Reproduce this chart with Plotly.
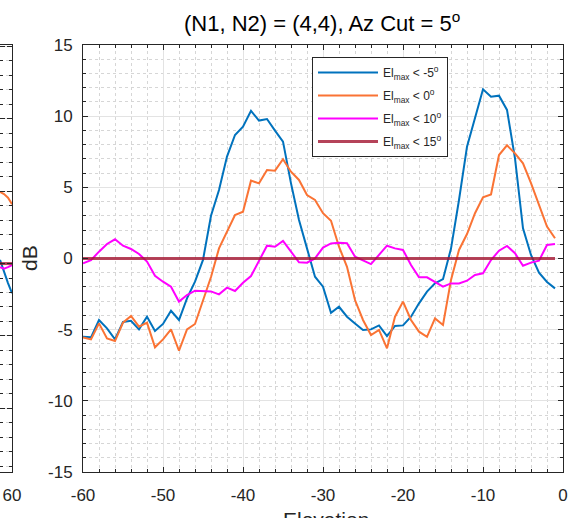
import plotly.graph_objects as go

W, H = 584, 518

elevation = [-60, -59, -58, -57, -56, -55, -54, -53, -52, -51,
             -50, -49, -48, -47, -46, -45, -44, -43, -42, -41,
             -40, -39, -38, -37, -36, -35, -34, -33, -32, -31,
             -30, -29, -28, -27, -26, -25, -24, -23, -22, -21,
             -20, -19, -18, -17, -16, -15, -14, -13, -12, -11,
             -10, -9, -8, -7, -6, -5, -4, -3, -2, -1]

el_lt_m5 = [-5.50, -5.54, -4.32, -4.91, -5.68, -4.46, -4.37, -4.98, -4.09, -5.09,
            -4.60, -3.67, -4.32, -2.80, -1.63, -0.10, 3.00, 4.81, 7.16, 8.68,
            9.26, 10.37, 9.69, 9.80, 8.98, 8.21, 5.28, 2.71, 0.71, -1.28,
            -1.98, -3.81, -3.39, -4.09, -4.56, -5.02, -4.98, -4.70, -5.45, -4.74,
            -4.70, -4.09, -3.15, -2.33, -1.75, -1.45, 0.70, 4.11, 7.86, 9.97,
            11.89, 11.37, 11.44, 10.44, 7.04, 2.12, 0.25, -1.00, -1.65, -2.10]

el_lt_0 = [-5.54, -5.68, -4.56, -5.61, -5.80, -4.51, -4.04, -4.79, -4.51, -6.24,
           -5.68, -4.98, -6.48, -4.98, -4.60, -2.92, -1.30, 0.71, 1.89, 3.06,
           3.29, 5.47, 5.28, 6.22, 6.17, 6.97, 6.10, 5.52, 4.46, 4.11,
           3.18, 2.65, 0.83, -0.58, -2.92, -4.32, -5.38, -5.02, -6.31, -4.09,
           -3.03, -4.32, -5.14, -5.50, -4.21, -4.67, -1.51, 0.60, 1.72, 3.18,
           4.30, 4.50, 7.27, 7.95, 7.39, 6.69, 5.30, 3.80, 2.24, 1.42]

el_lt_10 = [-0.34, -0.11, 0.48, 1.02, 1.35, 0.90, 0.67, 0.32, -0.22, -1.21,
            -1.63, -1.98, -3.03, -2.57, -2.26, -2.26, -2.31, -2.52, -2.05, -2.28,
            -1.70, -1.23, -0.18, 0.90, 0.83, 1.23, 0.48, -0.27, -0.29, 0.01,
            0.77, 1.06, 1.11, 1.07, 0.13, -0.15, -0.39, 0.25, 0.90, 0.71,
            0.60, -0.46, -1.32, -1.32, -1.63, -1.98, -1.75, -1.75, -1.56, -1.16,
            -1.04, -0.11, 0.55, 0.88, 0.37, -0.51, -0.29, -0.15, 0.95, 1.02]

el_lt_15 = [0.0] * 60

# neighbouring (cropped) panel on the left
left_x = [57, 58, 59, 60]
left_m5 = [0.5, -1.2, -2.7, -4.1]
left_0 = [9.9, 9.6, 9.1, 8.2]
left_10 = [-0.5, -0.7, -0.5, -0.2]
left_15 = [0.0, 0.0, 0.0, 0.0]

x_ticks = [-60, -50, -40, -30, -20, -10, 0]
x_labels = ['-60', '-50', '-40', '-30', '-20', '-10', '0']
y_ticks = [-15, -10, -5, 0, 5, 10, 15]
y_labels = ['-15', '-10', '-5', '0', '5', '10', '15']

names = ['El<sub>max</sub> &lt; -5<sup>o</sup>',
         'El<sub>max</sub> &lt; 0<sup>o</sup>',
         'El<sub>max</sub> &lt; 10<sup>o</sup>',
         'El<sub>max</sub> &lt; 15<sup>o</sup>']
colors = ['#0072BD', '#FA7334', '#FF00FF', 'rgba(162,20,47,0.8)']
widths = [2, 2, 2, 3]

FONT = 'Liberation Sans, Arial, Helvetica, sans-serif'
AX = '#262626'

fig = go.Figure()
for i, (name, ys, c, w) in enumerate(zip(names, [el_lt_m5, el_lt_0, el_lt_10, el_lt_15], colors, widths)):
    fig.add_trace(go.Scatter(x=elevation, y=ys, mode='lines', name=name,
                             legendgroup='g%d' % i,
                             line=dict(color=c, width=w), xaxis='x', yaxis='y'))
for ys, c, w in zip([left_m5, left_0, left_10, left_15], colors, widths):
    fig.add_trace(go.Scatter(x=left_x, y=ys, mode='lines', showlegend=False,
                             line=dict(color=c, width=w), xaxis='x2', yaxis='y2',
                             hoverinfo='skip'))

def px_x(p):
    return p / W

def px_y(p):
    return 1 - p / H

dom_y = [px_y(472), px_y(45)]

common = dict(showline=True, linecolor=AX, linewidth=1, mirror='ticks',
              ticks='inside', ticklen=5, tickcolor=AX, zeroline=False,
              showgrid=True, gridcolor='#e3e3e3', gridwidth=1, automargin=False,
              tickfont=dict(family=FONT, size=17, color=AX))

fig.update_layout(
    width=W, height=H,
    margin=dict(l=0, r=0, t=0, b=0, autoexpand=False),
    paper_bgcolor='white', plot_bgcolor='white',
    font=dict(family=FONT, color=AX),
    xaxis=dict(domain=[px_x(83), px_x(563)], range=[-60, 0],
               tickvals=x_ticks, ticktext=x_labels,
               minor=dict(dtick=2, ticks='inside', ticklen=3, tickcolor=AX,
                          showgrid=True, griddash='dot', gridcolor='#d6d6d6'),
               anchor='y', ticklabelstandoff=8, **common),
    yaxis=dict(domain=dom_y, range=[-15, 15], tickvals=y_ticks, ticktext=y_labels,
               minor=dict(dtick=1, ticks='inside', ticklen=3, tickcolor=AX,
                          showgrid=True, griddash='dot', gridcolor='#d6d6d6'),
               anchor='x', ticklabelstandoff=6, **common),
    xaxis2=dict(domain=[0, px_x(12)], range=[57, 60], tickvals=[60], ticktext=['60'],
                anchor='y2', ticklabelstandoff=8, **common),
    yaxis2=dict(domain=dom_y, range=[-28.8, 30.2], dtick=10, showticklabels=False,
                minor=dict(dtick=2, ticks='inside', ticklen=3, tickcolor=AX,
                           showgrid=True, griddash='dot', gridcolor='#d6d6d6'),
                anchor='x2', **common),
    legend=dict(x=px_x(312), y=px_y(57), xanchor='left', yanchor='top',
                bgcolor='white', bordercolor=AX, borderwidth=1,
                font=dict(family=FONT, size=12, color=AX), itemwidth=60,
                tracegroupgap=4, traceorder='grouped'),
    showlegend=True,
)

fig.add_annotation(text='(N1, N2) = (4,4), Az Cut = 5<sup>o</sup>', xref='paper', yref='paper',
                   x=px_x(322), y=px_y(22), xanchor='center', yanchor='middle',
                   showarrow=False, font=dict(family=FONT, size=22, color='#000000'))
fig.add_annotation(text='dB', xref='paper', yref='paper', textangle=-90,
                   x=px_x(29), y=px_y(258), xanchor='center', yanchor='middle',
                   showarrow=False, font=dict(family=FONT, size=21, color=AX))
fig.add_annotation(text='Elevation', xref='paper', yref='paper',
                   x=px_x(326), y=px_y(506), xanchor='center', yanchor='top',
                   showarrow=False, font=dict(family=FONT, size=21, color=AX))

fig.write_html('out.html', config={'displayModeBar': False},
               post_script="document.body.style.margin='0';")
